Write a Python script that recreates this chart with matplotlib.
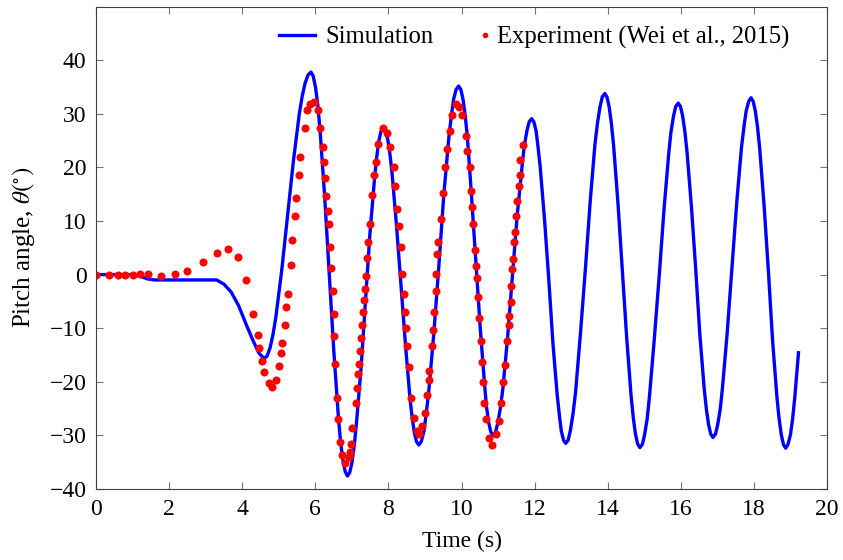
import matplotlib
matplotlib.use("Agg")
import matplotlib.pyplot as plt
from matplotlib.legend_handler import HandlerLine2D

plt.rcParams['font.family'] = ['Liberation Serif', 'DejaVu Serif']
plt.rcParams['mathtext.fontset'] = 'stix'

# Simulation
sim_t = [0.00, 0.50, 1.00, 1.20, 1.40, 1.60, 2.00, 2.50, 3.00, 3.30,
         3.50, 3.70, 3.90, 4.10, 4.30, 4.45, 4.60,
         4.68, 4.76, 4.84, 4.92, 5.08, 5.24, 5.40, 5.56, 5.64, 5.72, 5.80, 5.88,
         5.94, 6.005, 6.07, 6.13, 6.255, 6.38, 6.505, 6.63, 6.69, 6.755, 6.82, 6.88,
         6.94, 7.00, 7.06, 7.12, 7.25, 7.37, 7.49, 7.62, 7.68, 7.74, 7.80, 7.86,
         7.92, 7.98, 8.04, 8.10, 8.22, 8.345, 8.47, 8.59, 8.65, 8.71, 8.77, 8.83,
         8.90, 8.97, 9.03, 9.10, 9.24, 9.38, 9.51, 9.65, 9.72, 9.78, 9.85, 9.92,
         9.98, 10.04, 10.10, 10.16, 10.27, 10.39, 10.51, 10.63, 10.68, 10.74, 10.80, 10.86,
         10.93, 10.99, 11.06, 11.13, 11.26, 11.39, 11.52, 11.66, 11.72, 11.79, 11.85, 11.92,
         11.98, 12.04, 12.09, 12.15, 12.27, 12.39, 12.50, 12.62, 12.68, 12.73, 12.79, 12.85,
         12.92, 12.98, 13.05, 13.12, 13.25, 13.39, 13.52, 13.65, 13.72, 13.79, 13.85, 13.92,
         13.98, 14.04, 14.10, 14.16, 14.28, 14.40, 14.52, 14.64, 14.70, 14.76, 14.82, 14.88,
         14.95, 15.01, 15.08, 15.14, 15.27, 15.41, 15.54, 15.67, 15.73, 15.80, 15.86, 15.93,
         15.99, 16.05, 16.11, 16.17, 16.29, 16.41, 16.52, 16.64, 16.70, 16.76, 16.82, 16.88,
         16.95, 17.01, 17.08, 17.14, 17.27, 17.40, 17.53, 17.66, 17.73, 17.79, 17.86, 17.92,
         17.98, 18.04, 18.10, 18.16, 18.28, 18.40, 18.51, 18.63, 18.69, 18.75, 18.81, 18.87,
         18.93, 19.00, 19.06, 19.12, 19.22]
sim_y = [0.0, 0.0, 0.0, -0.3, -0.8, -1.0, -1.0, -1.0, -1.0, -1.0,
         -1.8, -3.3, -5.8, -9.2, -12.4, -14.6, -15.7,
         -15.17, -13.67, -11.21, -7.89, 0.83, 11.05, 21.27, 29.99, 33.31, 35.77, 37.26, 37.8,
         37.05, 34.93, 31.47, 26.79, 14.50, 0.10, -14.30, -26.59, -31.27, -34.73, -36.85, -37.6,
         -36.95, -35.13, -32.13, -28.10, -17.48, -5.05, 7.38, 18.00, 22.03, 25.03, 26.85, 27.5,
         26.91, 25.25, 22.52, 18.84, 9.18, -2.15, -13.48, -23.14, -26.82, -29.55, -31.21, -31.8,
         -31.13, -29.25, -26.17, -22.02, -11.10, 1.70, 14.50, 25.42, 29.57, 32.65, 34.53, 35.2,
         34.55, 32.72, 29.72, 25.68, 15.05, 2.60, -9.85, -20.48, -24.52, -27.52, -29.35, -30.0,
         -29.41, -27.75, -25.04, -21.37, -11.74, -0.45, 10.84, 20.47, 24.14, 26.85, 28.51, 29.1,
         28.49, 26.80, 24.01, 20.25, 10.37, -1.20, -12.77, -22.65, -26.41, -29.20, -30.89, -31.5,
         -30.85, -29.02, -26.01, -21.97, -11.32, 1.15, 13.62, 24.27, 28.31, 31.32, 33.15, 33.8,
         33.14, 31.29, 28.25, 24.15, 13.38, 0.75, -11.88, -22.65, -26.75, -29.79, -31.64, -32.3,
         -31.66, -29.86, -26.90, -22.91, -12.43, -0.15, 12.13, 22.61, 26.60, 29.56, 31.36, 32.0,
         31.38, 29.63, 26.76, 22.89, 12.72, 0.80, -11.12, -21.29, -25.16, -28.03, -29.78, -30.4,
         -29.77, -27.99, -25.07, -21.14, -10.81, 1.30, 13.41, 23.74, 27.67, 30.59, 32.37, 33.0,
         32.35, 30.51, 27.51, 23.45, 12.79, 0.30, -12.19, -22.85, -26.91, -29.91, -31.75, -32.4,
         -31.75, -29.91, -26.91, -22.85, -14.6]

# Experiment (Wei et al., 2015)
exp_t = [0.00, 0.36, 0.60, 0.80, 1.00, 1.19, 1.41, 1.77, 2.16, 2.50,
         2.92, 3.31, 3.60, 3.89, 4.09, 4.28, 4.43, 4.47, 4.55, 4.60,
         4.72, 4.81, 4.92, 5.01, 5.06, 5.10, 5.16, 5.21, 5.24, 5.32,
         5.36, 5.44, 5.48, 5.54, 5.59, 5.71, 5.78, 5.86, 5.95, 6.06,
         6.14, 6.20, 6.24, 6.27, 6.30, 6.34, 6.37, 6.39, 6.43, 6.47,
         6.50, 6.52, 6.55, 6.59, 6.63, 6.68, 6.73, 6.82, 6.91, 6.96,
         6.97, 7.01, 7.10, 7.14, 7.17, 7.20, 7.22, 7.25, 7.28, 7.31,
         7.32, 7.35, 7.38, 7.42, 7.44, 7.49, 7.55, 7.60, 7.67, 7.72,
         7.85, 7.96, 8.04, 8.14, 8.17, 8.24, 8.29, 8.33, 8.37, 8.42,
         8.45, 8.47, 8.51, 8.55, 8.63, 8.71, 8.77, 8.83, 8.92, 8.99,
         9.06, 9.10, 9.12, 9.18, 9.21, 9.24, 9.29, 9.31, 9.33, 9.36,
         9.45, 9.49, 9.56, 9.61, 9.68, 9.74, 9.84, 9.93, 10.02, 10.11,
         10.16, 10.22, 10.25, 10.28, 10.31, 10.36, 10.40, 10.41, 10.45, 10.49,
         10.52, 10.56, 10.59, 10.61, 10.66, 10.75, 10.84, 10.93, 11.02, 11.09,
         11.14, 11.18, 11.25, 11.30, 11.31, 11.34, 11.36, 11.39, 11.41, 11.43,
         11.46, 11.50, 11.52, 11.57, 11.59, 11.61, 11.69]
exp_y = [0.0, 0.0, 0.0, 0.0, 0.0, 0.2, 0.2, -0.2, 0.2, 0.6,
         2.3, 4.0, 4.7, 3.2, -1.1, -7.4, -11.3, -13.7, -16.1, -18.1,
         -20.2, -21.0, -19.6, -17.1, -14.7, -12.7, -9.4, -6.0, -3.7, 1.7,
         6.5, 10.9, 14.3, 18.6, 22.0, 27.3, 30.7, 31.8, 32.2, 30.7,
         27.3, 23.9, 21.0, 18.1, 14.7, 11.8, 9.4, 5.1, 1.2, -3.1,
         -7.4, -11.4, -16.6, -23.0, -26.9, -31.2, -33.6, -35.1, -34.1, -33.1,
         -31.7, -28.7, -23.9, -21.1, -18.6, -16.7, -14.3, -11.8, -9.4, -7.0,
         -4.7, -2.7, -0.2, 3.1, 6.0, 9.4, 14.8, 18.6, 21.1, 24.4,
         27.3, 26.4, 23.9, 20.0, 16.6, 12.3, 9.0, 5.1, 0.2, -3.7,
         -7.0, -9.9, -13.3, -17.2, -23.0, -26.8, -29.2, -29.8, -28.2, -25.9,
         -22.5, -19.6, -18.0, -13.3, -10.4, -7.0, -3.1, 0.2, 3.8, 6.0,
         10.4, 15.2, 20.0, 23.4, 26.8, 29.7, 31.8, 31.2, 29.7, 25.9,
         23.0, 20.0, 15.6, 12.7, 9.4, 4.5, 1.6, -0.7, -4.2, -8.1,
         -12.4, -16.3, -20.1, -23.9, -26.9, -30.5, -31.8, -29.8, -27.4, -23.9,
         -20.1, -16.8, -12.4, -9.5, -7.7, -5.2, -2.2, 1.1, 3.0, 6.0,
         7.9, 10.9, 13.7, 16.6, 18.6, 21.3, 24.1]

xticks = list(range(0, 21, 2))
yticks = list(range(-40, 41, 10))


class DotHandler(HandlerLine2D):
    # put the legend dot right next to its text
    def get_xdata(self, legend, xdescent, ydescent, width, height, fontsize):
        xm = -xdescent + width - 0.1 * fontsize
        return [xm - 0.5, xm + 0.5], [xm]


fig = plt.figure(figsize=(8.43, 5.60), dpi=100)
ax = fig.add_axes([0.114, 0.127, 0.867, 0.861])

ax.plot(sim_t, sim_y, color='blue', lw=2.4, solid_joinstyle='round', label='Simulation')
dots, = ax.plot(exp_t, exp_y, 'o', color='red', ms=5.8, mec='none',
                label='Experiment (Wei et al., 2015)')

ax.set_xlim(0, 20)
ax.set_ylim(-40, 50)
ax.set_xticks(xticks)
ax.set_yticks(yticks)
ax.set_yticklabels([str(v).replace('-', '\u2212') for v in yticks])
ax.tick_params(direction='in', top=True, right=True, length=5, width=0.8,
               color='0.45', labelsize=17, pad=7)
for s in ax.spines.values():
    s.set_linewidth(0.8)
    s.set_color('0.25')

ax.set_xlabel('Time (s)', fontsize=17, labelpad=8)
ax.set_ylabel(r'Pitch angle, $\theta(^{\circ})$', fontsize=18, labelpad=9)

ax.legend(loc='upper right', bbox_to_anchor=(0.949, 0.961), ncol=2, frameon=False,
          fontsize=17.7, handlelength=1.5, handletextpad=0.4, columnspacing=0.7,
          borderaxespad=0, borderpad=0, markerscale=0.7,
          handler_map={dots: DotHandler()})

fig.savefig('out.png', dpi=100)
